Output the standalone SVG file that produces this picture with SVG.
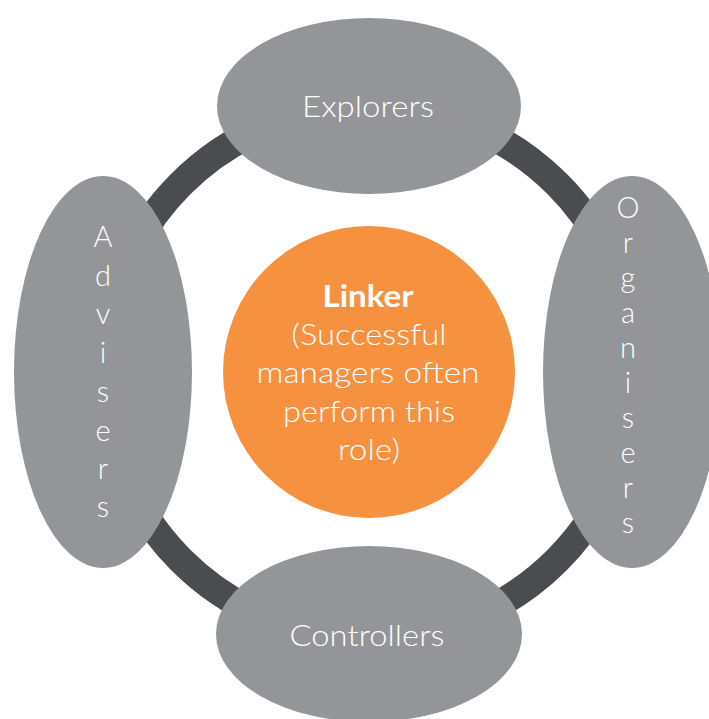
<svg xmlns="http://www.w3.org/2000/svg" width="709" height="719" viewBox="0 0 709 719">
<style>
.node{fill:#939598}
.lbl{fill:#ffffff;font-family:Lato,"Open Sans","DejaVu Sans",sans-serif;font-size:30px;font-weight:300;text-anchor:middle}
.vl{fill:#ffffff;font-family:Lato,"Open Sans","DejaVu Sans",sans-serif;font-size:29px;font-weight:300;text-anchor:middle}
.ring{fill:none;stroke:#4b4c50;stroke-width:28}
</style>
<rect width="709" height="719" fill="#ffffff"/>
<g id="connectors">
<circle class="ring" cx="369" cy="372" r="266"/>
</g>
<g id="explorers">
<ellipse class="node" cx="369" cy="106" rx="152" ry="88"/>
<text class="lbl" x="368" y="117" textLength="132" lengthAdjust="spacingAndGlyphs">Explorers</text>
</g>
<g id="controllers">
<ellipse class="node" cx="369" cy="634" rx="153" ry="88"/>
<text class="lbl" x="367" y="646" textLength="155" lengthAdjust="spacingAndGlyphs">Controllers</text>
</g>
<g id="advisers">
<ellipse class="node" cx="103" cy="372" rx="89" ry="196"/>
<text class="vl" x="103" y="247">A</text>
<text class="vl" x="103" y="286">d</text>
<text class="vl" x="103" y="324">v</text>
<text class="vl" x="103" y="363">i</text>
<text class="vl" x="103" y="402">s</text>
<text class="vl" x="103" y="441">e</text>
<text class="vl" x="103" y="479">r</text>
<text class="vl" x="103" y="517">s</text>
</g>
<g id="organisers">
<ellipse class="node" cx="632" cy="372" rx="89" ry="196"/>
<text class="vl" x="628" y="218">O</text>
<text class="vl" x="628" y="253">r</text>
<text class="vl" x="628" y="288">g</text>
<text class="vl" x="628" y="323">a</text>
<text class="vl" x="628" y="358">n</text>
<text class="vl" x="628" y="393">i</text>
<text class="vl" x="628" y="428">s</text>
<text class="vl" x="628" y="463">e</text>
<text class="vl" x="628" y="498">r</text>
<text class="vl" x="628" y="533">s</text>
</g>
<g id="linker">
<circle cx="369" cy="372" r="146" fill="#f6913f"/>
<text class="lbl" x="368" y="307" style="font-weight:700" textLength="91" lengthAdjust="spacingAndGlyphs">Linker</text>
<text class="lbl" x="369" y="345" textLength="155" lengthAdjust="spacingAndGlyphs">(Successful</text>
<text class="lbl" x="368" y="383" textLength="223" lengthAdjust="spacingAndGlyphs">managers often</text>
<text class="lbl" x="369" y="422" textLength="172" lengthAdjust="spacingAndGlyphs">perform this</text>
<text class="lbl" x="369" y="460" textLength="62" lengthAdjust="spacingAndGlyphs">role)</text>
</g>
</svg>
